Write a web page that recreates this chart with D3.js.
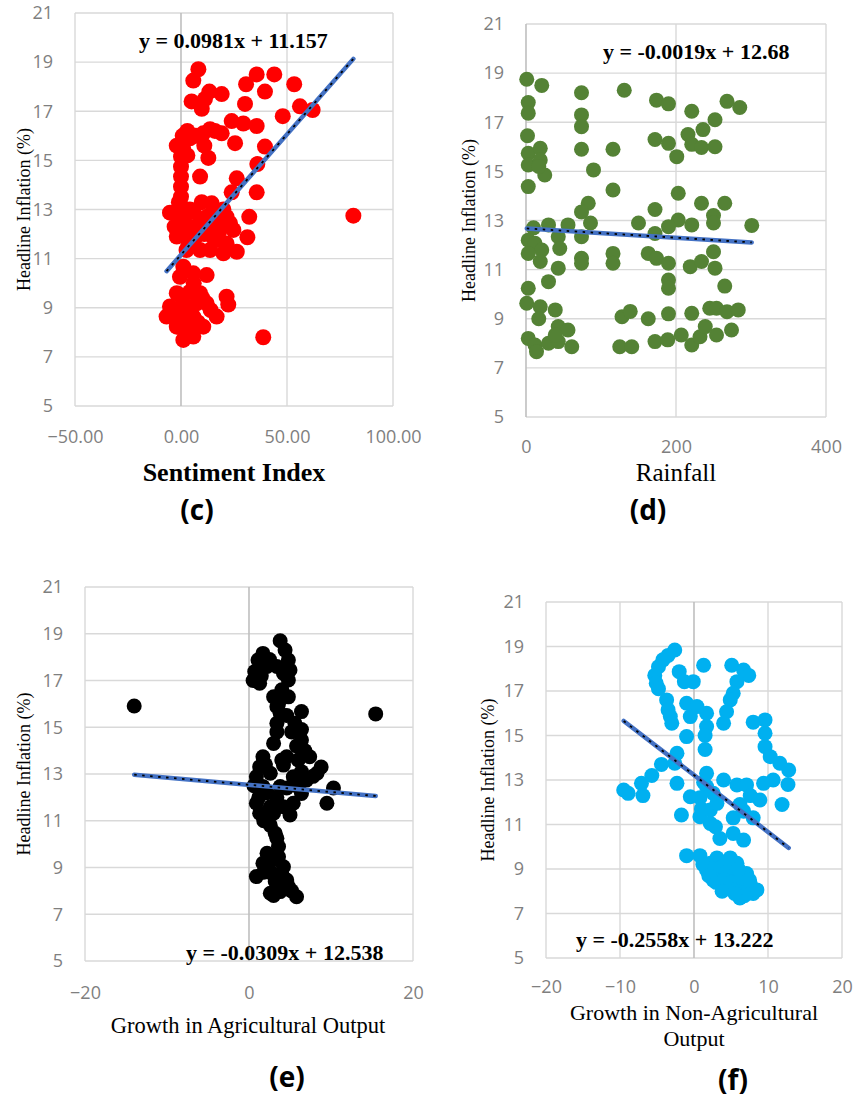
<!DOCTYPE html>
<html>
<head>
<meta charset="utf-8">
<script src="https://cdn.jsdelivr.net/npm/d3@7"></script>
<style>
  html, body { margin: 0; padding: 0; background: #fff; }
  svg { display: block; }
</style>
</head>
<body>
<svg id="chart" width="856" height="1101"></svg>
<script>
// ---------------- DATA ----------------
const inflationTicks = [5, 7, 9, 11, 13, 15, 17, 19, 21];

const sentimentTicks = [-50, 0, 50, 100];
const rainfallTicks = [0, 200, 400];
const agriTicks = [-20, 0, 20];
const nonAgriTicks = [-20, -10, 0, 10, 20];

// (Sentiment Index, Headline Inflation)
const sentimentPoints = [
  [8.2,18.71],[5.8,18.25],[13.4,17.8],[19.2,17.7],[5,17.4],[9.8,17.1],[11.3,17.5],[30.7,18.1],
  [35.7,18.5],[44,18.5],[39.6,17.8],[53.4,18.1],[30.2,17.3],[56.1,17.2],[62.1,17.05],[48,16.8],
  [23.9,16.6],[29.4,16.5],[35.7,16.4],[13.7,16.27],[4.2,15.9],[10.5,16.1],[19.2,16.1],[25.5,15.7],
  [39.6,15.56],[-2,15.6],[12.9,15.1],[36,14.85],
  [0,15.15],[0,14.74],[0,14.34],[0,13.93],[0,13.52],[1,15.5],[0.5,13.1],
  [9,14.34],[26.3,14.27],[23.9,13.7],[35.7,13.7],[9.8,13.3],[14.5,13.25],[-5.2,12.87],[32.2,12.7],
  [81.3,12.75],[31.3,11.87],
  [-0.5,12.44],[1.1,12.03],[4.2,12.3],[9,12.44],[13.7,12.17],[18.4,12.44],[23.1,12.44],[24.7,12.17],
  [16.8,11.76],[21.5,11.62],[26.3,11.28],[9,11.35],[2.6,11.35],[5.8,11.62],[13.7,11.35],[20,11.22],
  [-2,11.9],[12.1,12.7],[16.8,12.85],[4.2,13.0],[21.5,12.7],[1.1,12.7],
  [1.1,10.67],[-0.5,10.26],[5.8,10.4],[12.1,10.33],
  [-2,9.59],[4.2,9.65],[9,9.59],[21.5,9.45],[22.3,9.13],
  [-5.2,9.05],[1.1,9.18],[7.4,9.18],[12.1,9.18],
  [-6.8,8.64],[-0.5,8.64],[5.8,8.64],[16.8,8.64],
  [-2,8.23],[4.2,8.23],[10.5,8.23],[1.1,7.69],[5.8,7.83],[38.8,7.8],
  [2,12.9],[6,12.9],[11,12.0],[15,11.9],[18,12.1],[7,11.9],[3,11.8],[-3,12.3],[-1,13.3],[20,13.0],
  [10,9.4],[3,9.0],[0,9.5],[8,8.4],[2,8.0],[-4,8.9],[14,8.9],[6,10.0],[0.8,16.0],[3,16.2],[7,16.0],
  [16,16.2],[11,15.6],[3,15.2]
];

// (Rainfall, Headline Inflation)
const rainfallPoints = [
  [1,18.75],[21,18.5],[74,18.2],[131,18.3],[174,17.9],[190,17.75],[3,17.8],[3,17.37],[221,17.45],
  [268,17.85],[285,17.6],[252,17.1],[74,17.3],[74,16.82],[236,16.7],[216,16.5],[2,16.45],[172,16.3],
  [190,16.14],[201,15.6],[221,16.1],[234,15.97],[252,16.0],[74,15.9],[116,15.9],
  [3,15.74],[19,15.94],[3,15.26],[19,15.46],[25,14.85],[17,15.2],[90,15.06],[3,14.38],[116,14.24],
  [203,14.11],[83,13.7],[74,13.35],[172,13.45],[234,13.7],[265,13.7],[250,13.2],[250,12.9],
  [301,12.8],[150,12.9],[86,12.9],[56,12.82],[30,12.82],[10,12.7],[203,13.02],[190,12.75],
  [221,12.82],[172,12.47],[74,12.34],[43,12.34],[3,12.2],[12,12.07],[21,11.8],[3,11.66],
  [19,11.33],[45,11.86],[43,11.06],[74,11.46],[74,11.26],[116,11.66],[116,11.26],[163,11.66],
  [174,11.46],[190,11.26],[219,11.12],[234,11.33],[250,11.73],[252,11.06],[190,10.58],[190,10.24],
  [265,10.33],[30,10.51],[3,10.24],[1,9.63],[19,9.49],[39,9.36],[17,9.0],[128,9.08],[139,9.3],
  [163,9.0],[190,9.2],[221,9.22],[245,9.43],[254,9.43],[268,9.29],[283,9.36],[43,8.68],[56,8.54],
  [3,8.2],[12,7.93],[14,7.66],[30,8.0],[43,8.07],[61,7.86],[39,8.34],[125,7.86],[141,7.86],
  [172,8.07],[189,8.14],[207,8.34],[221,7.93],[232,8.27],[239,8.68],[254,8.34],[274,8.54]
];

// (Growth in Agricultural Output, Headline Inflation)
const agriPoints = [
  [3.8,18.7],[4.4,18.3],[1.7,18.16],[1.1,17.88],[4.8,17.88],[0.7,17.38],[5.0,17.45],[2.2,17.6],
  [3.4,17.6],[4.8,17.02],[1.3,16.88],[3.0,16.3],[4.8,16.3],[3.4,15.88],[6.4,15.67],[3.8,15.6],
  [3.4,15.17],[5.6,15.17],[6.4,14.9],[3.4,14.8],[6.4,14.45],[3.0,14.31],[4.6,13.74],[7.4,13.74],
  [1.7,13.74],[1.3,13.31],[4.2,13.38],[6.4,13.1],[8.3,13.03],[0.9,12.88],[2.6,13.03],[5.4,12.88],
  [7.0,12.74],[3.8,12.46],[1.7,12.46],[6.4,12.17],[10.3,12.4],[9.5,11.75],[0.9,11.75],[2.6,11.6],
  [5.4,11.75],[1.3,11.32],[5.0,11.25],[3.0,11.32],[3.2,10.46],[3.4,10.25],[2.2,9.61],[3.6,9.46],
  [4.2,9.03],[0.9,8.61],[2.8,8.75],[4.6,8.46],[2.6,7.9],[3.8,7.97],[5.8,7.75],[4.8,8.18],[1.7,9.18],
  [0.5,17.0],[1.5,17.2],[2.5,17.9],[4.2,17.3],[4.0,16.6],[3.6,16.0],[4.6,15.5],[5.2,14.8],[5.8,14.2],
  [4.0,13.6],[2.0,13.4],[0.6,12.5],[1.2,12.0],[2.2,12.2],[3.4,12.0],[4.6,12.4],[5.8,12.5],[7.8,12.9],
  [8.8,13.3],[4.2,11.6],[1.8,11.0],[2.6,10.8],[3.6,9.9],[2.8,9.3],[3.2,8.4],[4.0,8.7],[3.0,7.8],
  [5.2,8.0],[1.8,8.8],[6.0,13.6],[6.8,14.0],
  [-14.0,15.91],[15.45,15.57]
];

// (Growth in Non-Agricultural Output, Headline Inflation)
const nonAgriPoints = [
  [-2.6,18.84],[-3.5,18.6],[-4.2,18.4],[-4.8,18.09],[-5.3,17.7],[-5.1,17.35],[-4.8,17.1],[-3.7,16.6],
  [-3.5,16.15],[-3.2,15.85],[-3.0,15.55],
  [-2.0,17.87],[-1.3,17.42],[-0.1,17.42],[1.3,18.16],[-1.0,16.45],[0.4,16.3],[-0.5,15.85],[1.7,16.0],
  [1.7,15.4],[1.5,15.0],[-1.0,14.95],[1.5,14.37],
  [5.1,18.16],[6.7,17.94],[7.4,17.7],[5.8,17.42],[5.3,16.9],[4.9,16.6],[4.4,16.07],[4.0,15.55],
  [8.0,15.6],[9.6,15.7],[9.6,15.1],[9.6,14.5],[10.3,14.05],[11.6,13.75],[12.8,13.45],[12.7,12.8],
  [11.9,11.9],[10.7,13.0],[9.4,12.85],
  [-9.5,12.55],[-8.9,12.4],[-6.9,12.3],[-7.1,12.85],[-5.7,13.2],[-4.4,13.7],[-2.3,14.2],[-2.6,13.75],
  [-2.3,12.85],[-1.7,11.43],
  [-0.5,12.25],[1.7,13.3],[4.0,13.0],[1.7,12.7],[2.2,11.65],[2.2,11.05],[5.8,12.78],[7.1,12.78],
  [8.9,12.1],[7.6,12.3],[6.2,11.9],[5.3,11.3],[6.7,11.6],[8.0,11.3],[3.5,10.37],[5.3,10.6],[6.7,10.3],
  [0.8,12.2],[3.1,11.95],[0.8,11.35],[1.0,11.7],[2.6,12.4],[2.9,10.9],[1.3,12.9],
  [-1.0,9.6],[0.8,9.6],[2.2,9.26],[3.1,9.5],[4.9,9.5],[5.8,9.26],[1.7,8.96],[3.5,8.8],[5.3,8.8],
  [7.1,8.8],[2.6,8.5],[4.4,8.2],[6.2,8.43],[7.6,8.36],[8.0,7.9],[6.2,7.7],[7.1,8.0],[8.5,8.06],
  [1.2,9.2],[2.8,9.0],[3.8,9.1],[4.5,8.9],[2.0,8.7],[3.0,8.4],[4.0,8.5],[5.0,8.4],[5.8,8.1],
  [6.8,7.8],[3.8,8.0],[5.5,7.9],[6.5,8.6],[7.5,8.5],[4.8,9.3],[6.0,9.0]
];

const slopes = [0.0981, -0.0019, -0.0309, -0.2558];
const intercepts = [11.157, 12.68, 12.538, 13.222];
const equations = ["y = 0.0981x + 11.157", "y = -0.0019x + 12.68", "y = -0.0309x + 12.538", "y = -0.2558x + 13.222"];
const xTitles = [["Sentiment Index"], ["Rainfall"], ["Growth in Agricultural Output"], ["Growth in Non-Agricultural", "Output"]];
const panelLabels = ["(c)", "(d)", "(e)", "(f)"];
const yTitle = "Headline Inflation (%)";

// ---------------- LAYOUT ----------------
const panels = [
  { pts: sentimentPoints, ticks: sentimentTicks, fmt: d3.format(".2f"), color: "#ff0000", r: 8,
    box: {l: 75, r: 393, t: 13, b: 406}, tickPad: 24,
    eq: {x: 139, y: 48}, xt: {x: 234, y: 481, bold: true, size: 26}, pl: {x: 197, y: 520}, yt: {x: 24} },
  { pts: rainfallPoints, ticks: rainfallTicks, fmt: d3.format("d"), color: "#548235", r: 7.5,
    box: {l: 526, r: 826, t: 24, b: 417}, tickPad: 23,
    eq: {x: 603, y: 59}, xt: {x: 676, y: 481, bold: false, size: 25}, pl: {x: 648, y: 520}, yt: {x: 469} },
  { pts: agriPoints, ticks: agriTicks, fmt: d3.format("d"), color: "#000000", r: 7.5,
    box: {l: 85, r: 413, t: 587, b: 961}, tickPad: 25,
    eq: {x: 186, y: 960}, xt: {x: 248, y: 1033, bold: false, size: 22.5}, pl: {x: 287, y: 1087}, yt: {x: 24} },
  { pts: nonAgriPoints, ticks: nonAgriTicks, fmt: d3.format("d"), color: "#00b0f0", r: 7.5,
    box: {l: 546, r: 842, t: 602, b: 958}, tickPad: 22,
    eq: {x: 576, y: 947}, xt: {x: 694, y: 1020, bold: false, size: 22, lh: 26}, pl: {x: 733, y: 1090}, yt: {x: 488} }
];

const svg = d3.select("#chart");
svg.append("rect").attr("width", 856).attr("height", 1101).attr("fill", "#fff");

panels.forEach((p, i) => {
  const b = p.box;
  const x = d3.scaleLinear().domain(d3.extent(p.ticks)).range([b.l, b.r]);
  const y = d3.scaleLinear().domain(d3.extent(inflationTicks)).range([b.b, b.t]);
  const g = svg.append("g");

  // horizontal gridlines
  g.append("g").selectAll("line").data(inflationTicks).join("line")
    .attr("x1", b.l).attr("x2", b.r)
    .attr("y1", d => y(d)).attr("y2", d => y(d))
    .attr("stroke", "#d9d9d9").attr("stroke-width", 1.4);
  // vertical gridlines
  g.append("g").selectAll("line").data(p.ticks).join("line")
    .attr("y1", b.t).attr("y2", b.b)
    .attr("x1", d => x(d)).attr("x2", d => x(d))
    .attr("stroke", d => d === 0 ? "#bfbfbf" : "#d9d9d9")
    .attr("stroke-width", d => d === 0 ? 1.6 : 1.4);

  // axes (labels only)
  const yAxis = g.append("g").attr("transform", `translate(${b.l},0)`)
    .call(d3.axisLeft(y).tickValues(inflationTicks).tickSize(0).tickPadding(22).tickFormat(d3.format("d")));
  const xAxis = g.append("g").attr("transform", `translate(0,${b.b})`)
    .call(d3.axisBottom(x).tickValues(p.ticks).tickSize(0).tickPadding(p.tickPad).tickFormat(p.fmt));
  [yAxis, xAxis].forEach(a => {
    a.select(".domain").remove();
    a.selectAll("text").attr("font-family", "'Open Sans', sans-serif").attr("font-size", 18).attr("fill", "#7f7f7f");
  });

  // points
  g.append("g").selectAll("circle").data(p.pts).join("circle")
    .attr("cx", d => x(d[0])).attr("cy", d => y(d[1])).attr("r", p.r)
    .attr("fill", p.color);

  // trend line
  const xr = d3.extent(p.pts, d => d[0]);
  const trend = xr.map(v => [v, slopes[i] * v + intercepts[i]]);
  const line = d3.line().x(d => x(d[0])).y(d => y(d[1]));
  g.append("path").attr("d", line(trend)).attr("fill", "none")
    .attr("stroke", "#4472c4").attr("stroke-width", 4.5).attr("stroke-linecap", "round");
  g.append("path").attr("d", line(trend)).attr("fill", "none")
    .attr("stroke", "#000").attr("stroke-width", 1.8).attr("stroke-dasharray", "2.5,5.5");

  // equation
  g.append("text").attr("x", p.eq.x).attr("y", p.eq.y).text(equations[i])
    .attr("font-family", "'Liberation Serif', serif").attr("font-weight", "bold")
    .attr("font-size", 22).attr("fill", "#000");

  // x title
  xTitles[i].forEach((t, k) => {
    g.append("text").attr("x", p.xt.x).attr("y", p.xt.y + k * (p.xt.lh || 0))
      .attr("text-anchor", "middle").text(t)
      .attr("font-family", "'Liberation Serif', serif")
      .attr("font-weight", p.xt.bold ? "bold" : "normal")
      .attr("font-size", p.xt.size).attr("fill", "#000");
  });

  // y title
  const cy = (b.t + b.b) / 2;
  g.append("text").attr("transform", `translate(${p.yt.x + 6},${cy}) rotate(-90)`)
    .attr("text-anchor", "middle").text(yTitle)
    .attr("font-family", "'Liberation Serif', serif").attr("font-size", 18).attr("fill", "#000");

  // panel label
  g.append("text").attr("x", p.pl.x).attr("y", p.pl.y).attr("text-anchor", "middle")
    .text(panelLabels[i]).attr("font-family", "'Open Sans', sans-serif")
    .attr("font-weight", "bold").attr("font-size", 28).attr("fill", "#000");
});
</script>
</body>
</html>
